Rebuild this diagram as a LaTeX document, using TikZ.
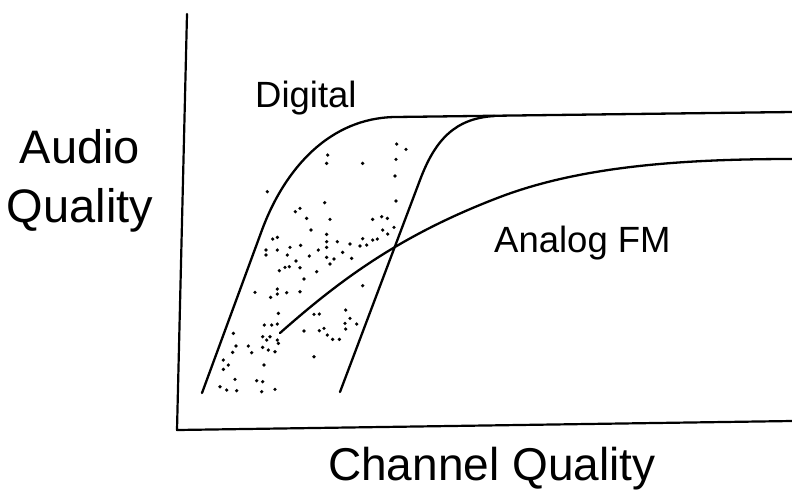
\documentclass[tikz,border=0pt]{standalone}
\usepackage{fontspec}
\setmainfont{Liberation Sans}
\begin{document}
\begin{tikzpicture}[x=1pt,y=-1pt,
  axisline/.style={line width=2.2pt, line cap=round, line join=round},
  curveline/.style={line width=2.3pt, line cap=round, line join=round},
  biglabel/.style={font=\fontsize{47}{56}\selectfont, inner sep=0pt, anchor=base},
  curvelabel/.style={font=\fontsize{36.5}{44}\selectfont, inner sep=0pt, anchor=base west},
  stipple/.style={fill=black}]
\useasboundingbox (0,0) rectangle (792,491);
% axes
\coordinate (ytop) at (187,14);
\coordinate (orig) at (177,430);
\coordinate (xend) at (792,421);
\draw[axisline] (ytop) -- (orig) -- (xend);
% labels
\node[biglabel] (audio) at (80,163) {Audio};
\node[biglabel] (quality) at (80,222) {Quality};
\node[curvelabel] (chq) at (328,480) {\fontsize{46}{55}\selectfont Channel Quality};
\node[curvelabel] (dig) at (255,107) {Digital};
\node[curvelabel] (afm) at (494,252) {Analog FM};
% digital curve 1 with top plateau
\draw[curveline] (202,393) -- (262,230) .. controls (285,168) and (330,118) .. (395,117) -- (792,112);
% digital curve 2
\draw[curveline] (340,392) -- (420,180) .. controls (435,140) and (455,118) .. (495,116);
% analog FM curve
\draw[curveline] (280,333) .. controls (340,280) and (400,235) .. (500,197)
                 .. controls (580,166.6) and (680,159) .. (792,159);
% stippled region
\begin{scope}[shift={(190,140)}, scale=1/3]
\foreach \p in {(620,12),(648,28),(413,45),(410,70),(518,70),(618,58),(615,108),(232,155),(404,188),(618,183),(330,205),(316,215),(350,235),(420,238),(363,270),(410,283),(548,238),(575,230),(592,235),(612,262),(578,270),(593,282),(248,297),(262,292),(228,330),(228,345),(262,330),(300,322),(332,316),(410,305),(442,305),(480,312),(518,296),(548,300),(510,318),(530,315),(562,297),(385,330),(410,322),(292,345),(318,363),(358,348),(410,352),(432,357),(458,337),(485,355),(420,372),(268,392),(285,382),(298,380),(330,383),(380,395),(342,417),(518,437),(262,447),(262,462),(195,457),(242,472),(290,458),(330,455),(265,520),(372,523),(388,522),(467,510),(480,535),(465,550),(500,552),(467,567),(223,555),(245,555),(262,552),(342,573),(388,572),(402,565),(412,585),(428,598),(448,598),(218,590),(240,590),(262,600),(130,580),(138,618),(175,618),(185,638),(128,637),(218,622),(235,630),(255,635),(372,650),(100,660),(115,675),(100,688),(222,675),(135,718),(200,722),(218,725),(255,748),(90,740),(110,750),(140,752),(215,755),(230,600),(265,610)}
  \fill[stipple] \p circle[radius=5.5];
\end{scope}
\end{tikzpicture}
\end{document}
